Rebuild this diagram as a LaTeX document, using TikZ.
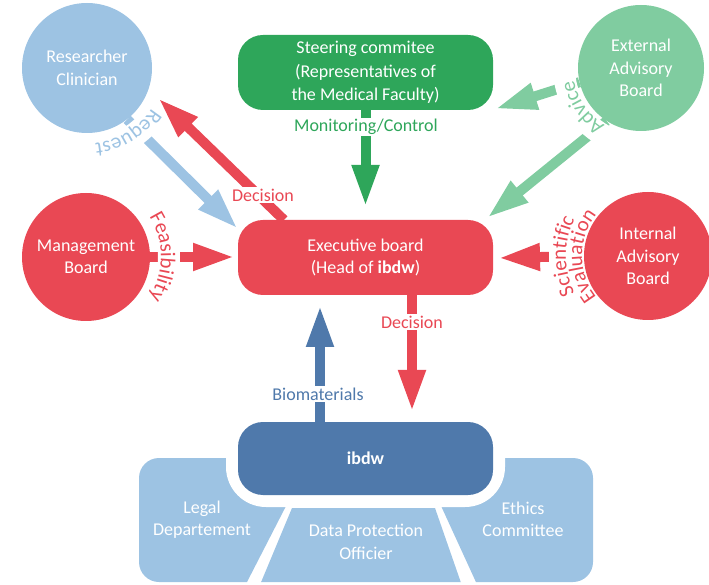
\documentclass[tikz,border=0pt]{standalone}
\usepackage{fontspec}
\setmainfont{Carlito}
\usetikzlibrary{arrows.meta,decorations.text}
\definecolor{cred}{HTML}{E94854}
\definecolor{cgreen}{HTML}{2EA65A}
\definecolor{clgreen}{HTML}{80CCA0}
\definecolor{clblue}{HTML}{9DC3E3}
\definecolor{cdblue}{HTML}{4F79AB}
\newcommand\lblfont{\fontsize{18}{22.5}\selectfont}
\newcommand\arcfont{\fontsize{21}{25}\selectfont}
\pgfdeclarelayer{bg}
\pgfdeclarelayer{arr}
\pgfsetlayers{bg,arr,main}
\begin{document}
\begin{tikzpicture}[x=1pt,y=1pt,
 blk/.style={line width=10pt,-{Triangle[length=42pt,width=25pt]}},
 circ/.style={circle,minimum size=#1,inner sep=0pt,text=white,align=center,font=\lblfont},
 rbox/.style={rectangle,rounded corners=25pt,minimum width=255pt,minimum height=75pt,inner sep=0pt,text=white,align=center,font=\lblfont},
 lab/.style={fill=white,inner sep=1.5pt,font=\lblfont},
 band/.style={white,line width=#1},
 btxt/.style={text=white,align=center,font=\lblfont}
]
\useasboundingbox (0,0) rectangle (709,584);

% main nodes
\node[circ=130pt,fill=clblue] (rc) at (87,516) {Researcher\\Clinician};
\node[rbox,fill=cgreen,font=\fontsize{18}{23.5}\selectfont] (steer) at (365.5,511.5) {Steering commitee\\(Representatives of\\the Medical Faculty)};
\node[circ=126pt,fill=clgreen] (eab) at (641,516) {External\\Advisory\\Board};
\node[circ=128pt,fill=cred] (mb) at (86,327) {Management\\Board};
\node[circ=128pt,fill=cred] (iab) at (648,328) {Internal\\Advisory\\Board};
\node[rbox,fill=cred] (exec) at (365.5,326.5) {Executive board\\(Head of \textbf{ibdw})};
\node[rbox,fill=cdblue,minimum height=73pt,font=\lblfont\bfseries] (ibdw) at (365.5,125.5) {ibdw};

% bottom shapes
\begin{pgfonlayer}{bg}
\begin{scope}
\clip[rounded corners=20pt] (139,2) rectangle (593,126);
\fill[clblue] (130,134) -- (314.8,134) -- (242.9,-6) -- (130,-6) -- cycle;
\fill[clblue] (292,76) -- (435,76) -- (463.5,-6) -- (257.8,-6) -- cycle;
\fill[clblue] (415.4,134) -- (600,134) -- (600,-6) -- (479.6,-6) -- cycle;
\end{scope}
\node[rectangle,rounded corners=40pt,minimum width=279pt,minimum height=97pt,inner sep=0pt,fill=white] (gap) at (ibdw.center) {};
\end{pgfonlayer}
\node[btxt] (legal) at (202,64.5) {Legal\\Departement};
\node[btxt] (dpo) at (366,42) {Data Protection\\Officier};
\node[btxt] (ethics) at (523,64.5) {Ethics\\Committee};

% arrow end points
\coordinate (reqTip) at (238,355);
\coordinate (decStart) at (284,364);
\coordinate (decTip) at (158,486);
\coordinate (monTip) at (365.5,377);
\coordinate (advTip1) at (495,475);
\coordinate (advTip2) at (487,366);
\coordinate (feaTip) at (235,327);
\coordinate (sciTip) at (498,326);
\coordinate (dec2Start) at (412,289);
\coordinate (dec2Tip) at (412,172);
\coordinate (bioStart) at (320,162);
\coordinate (bioTip) at (320,279);

\begin{pgfonlayer}{arr}
\draw[blk,clblue] (rc.-52) -- (reqTip);
\draw[blk,cred] (decStart) -- (decTip);
\draw[blk,cgreen] (steer.south) -- (monTip);
\draw[blk,clgreen] (eab.-167) -- (advTip1);
\draw[blk,clgreen] (eab.-123.5) -- (advTip2);
\draw[blk,cred] (mb.east) -- (feaTip);
\draw[blk,cred] (iab.west) -- (sciTip);
\draw[blk,cred] (dec2Start) -- (dec2Tip);
\draw[blk,cdblue] (bioStart) -- (bioTip);
% white bands under curved labels
\draw[band=24pt] (rc.center) ++(-31:82) arc[start angle=-31,end angle=-90,radius=82];
\draw[band=22pt] (mb.center) ++(30:83) arc[start angle=30,end angle=-30,radius=83];
\draw[band=22pt] (eab.center) ++(-115:77) arc[start angle=-115,end angle=-177,radius=77];
\draw[band=35pt] (iab.center) ++(200:81.5) arc[start angle=200,end angle=160,radius=81.5];
\end{pgfonlayer}

% straight labels
\node[lab,text=cred] (decl) at (263,389) {Decision};
\node[lab,text=cgreen] (monl) at (366,457) {Monitoring/Control};
\node[lab,text=cred] (dec2l) at (412,262) {Decision};
\node[lab,text=cdblue] (biol) at (318,190) {Biomaterials};

% curved labels
\path[decorate,decoration={text along path,text align=center,text color=clblue,text={|\arcfont|Request}}]
  (rc.center) ++(-10:76) arc[start angle=-10,end angle=-106,radius=76];
\path[decorate,decoration={text along path,text align=center,text color=cred,text={|\arcfont|Feasibility}}]
  (mb.center) ++(50:75) arc[start angle=50,end angle=-50,radius=75];
\path[decorate,decoration={text along path,text align=center,text color=clgreen,text={|\arcfont|Advice}}]
  (eab.center) ++(-100:68) arc[start angle=-100,end angle=-192,radius=68];
\path[decorate,decoration={text along path,text align=center,text color=cred,text={|\arcfont|Scientific}}]
  (iab.center) ++(220:82) arc[start angle=220,end angle=140,radius=82];
\path[decorate,decoration={text along path,text align=center,text color=cred,text={|\arcfont|Evaluation}}]
  (iab.center) ++(230:66) arc[start angle=230,end angle=130,radius=66];
\end{tikzpicture}
\end{document}
